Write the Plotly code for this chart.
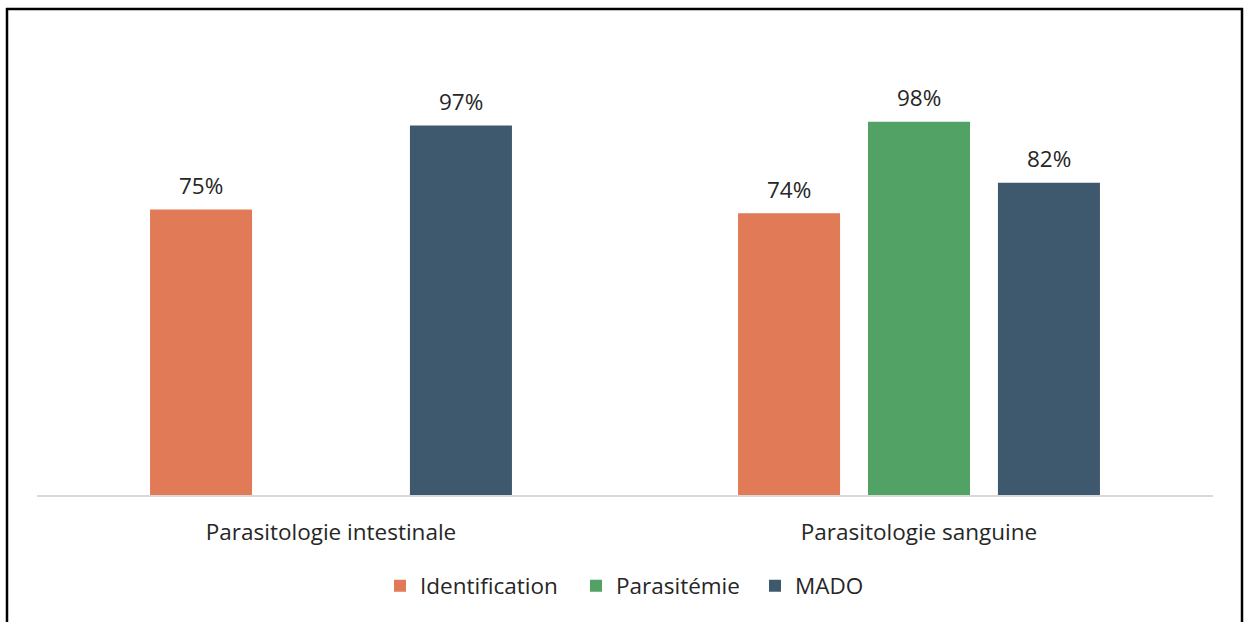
import plotly.graph_objects as go

categories = ["Parasitologie intestinale", "Parasitologie sanguine"]
series_names = ["Identification", "Parasitémie", "MADO"]
identification = [0.75, 0.74]
parasitemie = [None, 0.98]
mado = [0.97, 0.82]
colors = ["#E07A57", "#52A265", "#3E586E"]

FONT = "Open Sans, Noto Sans, sans-serif"
TXT = "#262626"
FS = 22.5

W, H = 1244, 622
L, R, T, B = 37, 31, 38, 127
pw, ph = W - L - R, H - T - B

def px_x(p):
    return (p - L) / pw

def px_y(p):
    return (H - B - p) / ph

BARGAP = 0.337
BARGROUPGAP = 0.215
n_series = 3
slot_px = pw / len(categories) * (1 - BARGAP) / n_series  # pixel distance between bar centres

legend_ids = ["legend", "legend2", "legend3"]
legend_left_px = [380, 576, 755]

fig = go.Figure()
annotations = []
for i, (name, vals, col) in enumerate(zip(series_names, [identification, parasitemie, mado], colors)):
    fig.add_trace(go.Bar(
        x=categories, y=vals, name=name, legend=legend_ids[i],
        marker=dict(color=col, line=dict(width=0)),
    ))
    for cat, v in zip(categories, vals):
        if v is None:
            continue
        annotations.append(dict(
            x=cat, y=v, xref="x", yref="y", text=f"{v:.0%}", showarrow=False,
            xshift=(i - (n_series - 1) / 2) * slot_px, yshift=24, yanchor="middle",
            font=dict(size=FS, color=TXT, family=FONT),
        ))

legend_layout = {}
for lid, lx in zip(legend_ids, legend_left_px):
    legend_layout[lid] = dict(orientation="h", x=px_x(lx), xanchor="left", y=px_y(586), yanchor="middle",
                              font=dict(size=FS, color=TXT), itemwidth=30, bgcolor="rgba(0,0,0,0)")

fig.update_layout(
    width=W, height=H,
    margin=dict(l=L, r=R, t=T, b=B),
    paper_bgcolor="white", plot_bgcolor="white",
    barmode="group", bargap=BARGAP, bargroupgap=BARGROUPGAP,
    font=dict(family=FONT, color=TXT, size=FS),
    showlegend=True,
    xaxis=dict(showgrid=False, showline=True, linecolor="#D9D9D9", linewidth=2,
               ticks="", tickfont=dict(size=FS, color=TXT), ticklabelstandoff=16),
    yaxis=dict(range=[0, 1.2], visible=False, showgrid=False, zeroline=False),
    annotations=annotations,
    shapes=[
        dict(type="line", xref="paper", yref="paper", x0=px_x(7), x1=px_x(7), y0=px_y(8), y1=px_y(640),
             line=dict(color="black", width=2.5)),
        dict(type="line", xref="paper", yref="paper", x0=px_x(1242), x1=px_x(1242), y0=px_y(8), y1=px_y(640),
             line=dict(color="black", width=2.5)),
        dict(type="line", xref="paper", yref="paper", x0=px_x(6), x1=px_x(1243), y0=px_y(9), y1=px_y(9),
             line=dict(color="black", width=2.5)),
    ],
    **legend_layout,
)

fig.write_html("out.html", config={"displayModeBar": False},
               post_script="document.body.style.margin='0';document.body.style.overflow='hidden';")
